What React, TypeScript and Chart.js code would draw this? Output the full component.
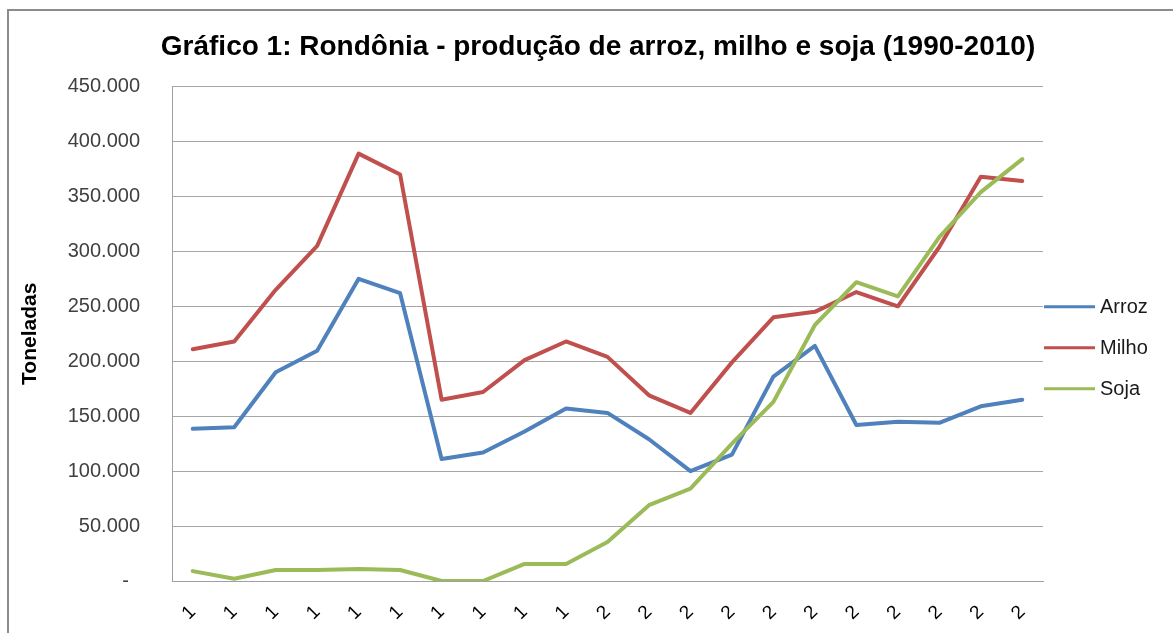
import React, { useEffect, useRef } from "react";
import { Chart, registerables } from "chart.js";

Chart.register(...registerables);

const years = [
  "1990", "1991", "1992", "1993", "1994", "1995", "1996", "1997", "1998", "1999",
  "2000", "2001", "2002", "2003", "2004", "2005", "2006", "2007", "2008", "2009", "2010",
];
const arroz = [138500, 140000, 190000, 209500, 275000, 262000, 111000, 117000, 136000, 157000, 153000, 129000, 100000, 115000, 186000, 214000, 142000, 145000, 144000, 159000, 165000];
const milho = [211000, 218000, 265000, 305000, 389000, 370000, 165000, 172000, 201000, 218000, 204000, 169000, 153000, 199000, 240000, 245000, 263000, 250000, 304000, 368000, 364000];
const soja = [9000, 2000, 10000, 10000, 11000, 10000, 0, 0, 15500, 15500, 35500, 69000, 84000, 125000, 163000, 233000, 272000, 259000, 313000, 354000, 384000];
const seriesNames = ["Arroz", "Milho", "Soja"];
const seriesColors = ["#4f81bd", "#c0504d", "#9bbb59"];
const titleText = "Gráfico 1: Rondônia - produção de arroz, milho e soja (1990-2010)";
const yAxisTitle = "Toneladas";

const FONT = "'Liberation Sans', Arial, sans-serif";

function fmt(v: number): string {
  if (v === 0) return "-  ";
  return String(Math.round(v)).replace(/\B(?=(\d{3})+(?!\d))/g, ".");
}

const framePlugin = {
  id: "frame",
  beforeDraw(chart: any) {
    const ctx = chart.ctx;
    ctx.save();
    ctx.fillStyle = "#ffffff";
    ctx.fillRect(0, 0, chart.width, chart.height);
    ctx.strokeStyle = "#8c8c8c";
    ctx.lineWidth = 2;
    ctx.beginPath();
    ctx.moveTo(8, chart.height);
    ctx.lineTo(8, 10);
    ctx.lineTo(chart.width, 10);
    ctx.stroke();
    ctx.restore();
  },
};

const legendPlugin = {
  id: "sideLegend",
  afterDraw(chart: any) {
    const ctx = chart.ctx;
    const area = chart.chartArea;
    const cy = (area.top + area.bottom) / 2 + 14;
    ctx.save();
    ctx.font = `20px ${FONT}`;
    ctx.textBaseline = "middle";
    ctx.textAlign = "left";
    chart.data.datasets.forEach((ds: any, i: number) => {
      const y = cy + (i - 1) * 41;
      ctx.strokeStyle = ds.borderColor;
      ctx.lineWidth = 3;
      ctx.beginPath();
      ctx.moveTo(area.right + 1, y);
      ctx.lineTo(area.right + 52, y);
      ctx.stroke();
      ctx.fillStyle = "#1a1a1a";
      ctx.fillText(ds.label, area.right + 57, y + 1);
    });
    ctx.restore();
  },
};

export default function App() {
  const ref = useRef<HTMLCanvasElement | null>(null);

  useEffect(() => {
    if (!ref.current) return;
    const series = [arroz, milho, soja];
    const chart = new Chart(ref.current, {
      type: "line",
      data: {
        labels: years,
        datasets: series.map((d, i) => ({
          label: seriesNames[i],
          data: d,
          borderColor: seriesColors[i],
          backgroundColor: seriesColors[i],
          borderWidth: 4,
          pointRadius: 0,
          tension: 0,
          borderCapStyle: "round" as const,
          borderJoinStyle: "round" as const,
          order: 2 - i,
          yAxisID: "y",
        })),
      },
      options: {
        animation: false,
        responsive: false,
        maintainAspectRatio: false,
        layout: { padding: { left: 10, right: -13, top: 10, bottom: 0 } },
        plugins: {
          legend: { display: false },
          tooltip: { enabled: false },
          title: {
            display: true,
            text: titleText,
            color: "#000000",
            font: { family: FONT, size: 28, weight: "bold" },
            padding: { top: 20, bottom: 23 },
          },
        },
        scales: {
          x: {
            offset: true,
            grid: { display: false, drawTicks: false },
            border: { display: true, color: "#a0a0a0", width: 1 },
            afterFit: (scale: any) => {
              scale.height = 52;
            },
            ticks: {
              autoSkip: false,
              minRotation: 45,
              maxRotation: 45,
              padding: 20,
              color: "#000000",
              font: { family: FONT, size: 19 },
              callback: function (this: any, _v: any, i: number) {
                return years[i].charAt(0);
              },
            },
          },
          y: {
            min: 0,
            max: 450000,
            afterFit: (scale: any) => {
              scale.width = 162;
            },
            grid: { color: "#a6a6a6", lineWidth: 1, drawTicks: false },
            border: { display: true, color: "#a0a0a0", width: 1 },
            title: {
              display: true,
              text: yAxisTitle,
              color: "#000000",
              font: { family: FONT, size: 21, weight: "bold" },
              padding: { top: 8, bottom: 0 },
            },
            ticks: {
              stepSize: 50000,
              padding: 32,
              color: "#404040",
              font: { family: FONT, size: 20 },
              callback: (v: any) => fmt(Number(v)),
            },
          },
          y2: {
            position: "right",
            min: 0,
            max: 1,
            afterFit: (scale: any) => {
              scale.width = 143;
            },
            grid: { display: false, drawTicks: false },
            border: { display: false },
            ticks: { display: false },
          },
        },
      },
      plugins: [framePlugin, legendPlugin],
    });
    return () => chart.destroy();
  }, []);

  return (
    <div style={{ position: "fixed", left: 0, top: 0, width: 1173, height: 633, background: "#fff" }}>
      <canvas ref={ref} width={1173} height={633} style={{ display: "block", width: 1173, height: 633 }} />
    </div>
  );
}
